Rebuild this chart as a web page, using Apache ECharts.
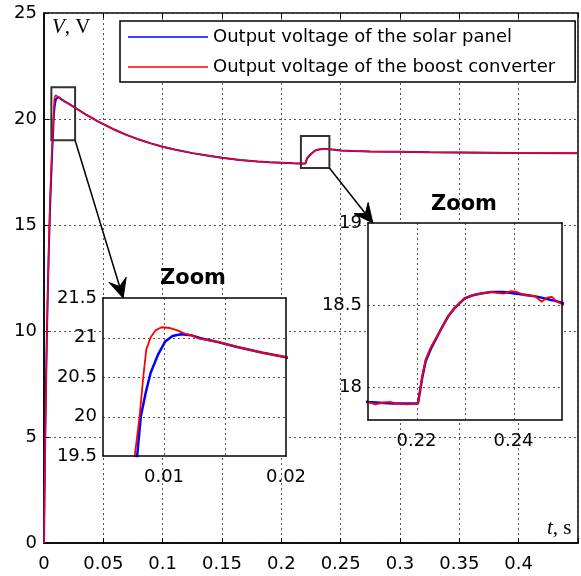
<!DOCTYPE html>
<html><head><meta charset="utf-8">
<script src="https://cdn.jsdelivr.net/npm/echarts@6/dist/echarts.min.js"></script>
<style>html,body{margin:0;padding:0;background:#fff}#c{width:581px;height:576px}</style>
</head><body><div id="c"></div>
<script>
const seriesNames = ['Output voltage of the solar panel', 'Output voltage of the boost converter'];
const seriesColors = ['#0000ff', '#ff0000'];

// Solar panel output voltage (blue)
const panelT = [0, 0.0005, 0.001, 0.002, 0.003, 0.004, 0.005, 0.006, 0.007, 0.0078, 0.0081, 0.0085, 0.0089, 0.0095, 0.0101, 0.0107, 0.0114, 0.0122, 0.013, 0.0145, 0.016, 0.018, 0.02, 0.025, 0.03, 0.035, 0.04, 0.045, 0.05, 0.06, 0.07, 0.08, 0.09, 0.1, 0.11, 0.125, 0.14, 0.15, 0.165, 0.18, 0.19, 0.2, 0.21, 0.215, 0.2203, 0.2212, 0.2219, 0.2229, 0.225, 0.2265, 0.2278, 0.2299, 0.2316, 0.2333, 0.2354, 0.238, 0.2403, 0.243, 0.2451, 0.248, 0.2505, 0.26, 0.275, 0.3, 0.325, 0.35, 0.4, 0.45];
const panelV = [0, 2.6, 5.0, 8.6, 11.4, 13.7, 15.6, 17.2, 18.6, 19.5, 20.0, 20.3, 20.55, 20.78, 20.95, 21.02, 21.04, 21.03, 20.99, 20.94, 20.88, 20.81, 20.75, 20.57, 20.4, 20.22, 20.06, 19.9, 19.76, 19.48, 19.24, 19.03, 18.85, 18.69, 18.56, 18.39, 18.25, 18.17, 18.07, 18.0, 17.96, 17.94, 17.91, 17.9, 17.9, 18.06, 18.16, 18.23, 18.35, 18.43, 18.48, 18.54, 18.56, 18.57, 18.58, 18.58, 18.57, 18.56, 18.55, 18.53, 18.51, 18.49, 18.47, 18.45, 18.43, 18.42, 18.4, 18.39];

// Boost converter output voltage (red)
const boostT = [0, 0.0005, 0.001, 0.002, 0.003, 0.004, 0.005, 0.006, 0.007, 0.0076, 0.008, 0.0083, 0.00855, 0.0089, 0.0093, 0.0098, 0.0105, 0.0111, 0.0117, 0.0122, 0.0128, 0.0145, 0.016, 0.018, 0.02, 0.025, 0.03, 0.035, 0.04, 0.045, 0.05, 0.06, 0.07, 0.08, 0.09, 0.1, 0.11, 0.125, 0.14, 0.15, 0.165, 0.18, 0.19, 0.2, 0.21, 0.2115, 0.213, 0.2145, 0.216, 0.218, 0.2203, 0.2212, 0.2219, 0.2229, 0.225, 0.2265, 0.2278, 0.2299, 0.2316, 0.2333, 0.2354, 0.2365, 0.238, 0.2395, 0.2406, 0.2424, 0.2444, 0.2458, 0.2469, 0.2479, 0.249, 0.2505, 0.26, 0.275, 0.29, 0.3, 0.325, 0.35, 0.38, 0.4, 0.43, 0.45];
const boostV = [0, 2.5, 4.7, 8.3, 11.2, 13.8, 16.0, 17.7, 18.9, 19.5, 20.0, 20.5, 20.85, 21.0, 21.09, 21.13, 21.12, 21.09, 21.05, 21.03, 20.99, 20.94, 20.88, 20.81, 20.75, 20.57, 20.4, 20.22, 20.06, 19.9, 19.76, 19.48, 19.24, 19.03, 18.85, 18.69, 18.56, 18.39, 18.25, 18.17, 18.07, 18.0, 17.96, 17.94, 17.91, 17.895, 17.905, 17.91, 17.9, 17.895, 17.9, 18.07, 18.17, 18.24, 18.35, 18.43, 18.48, 18.54, 18.56, 18.57, 18.58, 18.575, 18.57, 18.585, 18.58, 18.56, 18.555, 18.52, 18.545, 18.55, 18.52, 18.5, 18.49, 18.47, 18.455, 18.45, 18.43, 18.42, 18.41, 18.4, 18.395, 18.39];

// Axis ranges / tick labels
const mainX = {min: 0, max: 0.45, step: 0.05, labels: [0, 0.05, 0.1, 0.15, 0.2, 0.25, 0.3, 0.35, 0.4]};
const mainY = {min: 0, max: 25, step: 5};
const zoom1X = {min: 0.005, max: 0.02, step: 0.005, labels: [0.01, 0.02], grid: [0.01, 0.015]};
const zoom1Y = {min: 19.5, max: 21.5, step: 0.5, labels: [19.5, 20, 20.5, 21, 21.5], grid: [20, 20.5, 21]};
const zoom2X = {min: 0.21, max: 0.25, step: 0.01, labels: [0.22, 0.24], grid: [0.22, 0.23, 0.24]};
const zoom2Y = {min: 17.8, max: 19, step: 0.1, labels: [18, 18.5, 19], grid: [18, 18.5]};

// Zoom boxes on the main plot [t1, v1, t2, v2]; arrows go from a box corner (main axes) to an inset point (inset axes)
const zoomBox1 = [0.0062, 19.0, 0.0262, 21.5];
const zoomBox2 = [0.2165, 17.69, 0.2405, 19.2];
const arrow1 = {from: [0.0262, 19.0], to: [0.00665, 21.5]};
const arrow2 = {from: [0.2405, 17.69], to: [0.211, 19.0]};

const FONT = 'DejaVu Sans';
const pairs = (t, v) => t.map((x, i) => [x, v[i]]);
const panelData = pairs(panelT, panelV);
const boostData = pairs(boostT, boostV);
const inList = (list) => (val) => list.some(l => Math.abs(l - val) < 1e-9) ? String(+val.toFixed(4)) : '';

const dash = () => ({color: '#555', type: [2, 3], width: 1});
const lbl = {color: '#000', fontFamily: FONT, fontSize: 18};

const chart = echarts.init(document.getElementById('c'), null, {renderer: 'canvas'});

function lineSeries(idx, grid, data, color, width, z, extra) {
  return Object.assign({
    name: seriesNames[idx], type: 'line', xAxisIndex: grid.x, yAxisIndex: grid.y,
    data: data, showSymbol: false, symbol: 'none', animation: false, clip: true, z: z,
    lineStyle: {color: color, width: width}, itemStyle: {color: color}
  }, extra || {});
}

// Inset panel: white background + dashed grid lines, drawn through the inset axes (api.coord)
function insetPanelSeries(xi, yi, ax, ay) {
  return {
    type: 'custom', xAxisIndex: xi, yAxisIndex: yi, z: 6, silent: true, animation: false, clip: false,
    data: [[ax.min, ay.min]], encode: {x: 0, y: 1},
    renderItem: function (params, api) {
      const tl = api.coord([ax.min, ay.max]), br = api.coord([ax.max, ay.min]);
      const children = [{type: 'rect', shape: {x: tl[0], y: tl[1], width: br[0] - tl[0], height: br[1] - tl[1]}, style: {fill: '#fff', stroke: null}}];
      ax.grid.forEach(x => {
        const a = api.coord([x, ay.min]), b = api.coord([x, ay.max]); const xx = Math.round(a[0]) + 0.5;
        children.push({type: 'line', shape: {x1: xx, y1: b[1], x2: xx, y2: a[1]}, style: {stroke: '#555', lineWidth: 1, lineDash: [2, 3], fill: null}});
      });
      ay.grid.forEach(y => {
        const a = api.coord([ax.min, y]), b = api.coord([ax.max, y]); const yy = Math.round(a[1]) + 0.5;
        children.push({type: 'line', shape: {x1: a[0], y1: yy, x2: b[0], y2: yy}, style: {stroke: '#555', lineWidth: 1, lineDash: [2, 3], fill: null}});
      });
      return {type: 'group', children: children};
    }
  };
}

const insetAxis = (gi, ax, pos, withLabels, margin) => ({
  type: 'value', gridIndex: gi, min: ax.min, max: ax.max, interval: ax.step, z: 11, position: pos,
  axisLine: {show: true, onZero: false, lineStyle: {color: '#000', width: 1.5}}, axisTick: {show: false},
  axisLabel: withLabels ? Object.assign({margin: margin, formatter: inList(ax.labels)}, lbl) : {show: false},
  splitLine: {show: false}
});

const option = {
  animation: false,
  backgroundColor: '#fff',
  grid: [
    {left: 44, top: 13, width: 541, height: 530, show: true, borderColor: '#000', borderWidth: 1.5, backgroundColor: 'transparent'},
    {left: 103, top: 298, width: 183, height: 158, show: false},
    {left: 368, top: 223, width: 194, height: 197, show: false}
  ],
  xAxis: [
    {type: 'value', gridIndex: 0, min: mainX.min, max: mainX.max, interval: mainX.step, position: 'bottom',
     axisLine: {show: true, lineStyle: {color: '#000', width: 1.5}}, axisTick: {show: true, inside: true, length: 5, lineStyle: {color: '#000'}},
     axisLabel: Object.assign({margin: 12, formatter: inList(mainX.labels)}, lbl), splitLine: {show: true, lineStyle: dash()}},
    {type: 'value', gridIndex: 0, min: mainX.min, max: mainX.max, interval: mainX.step, position: 'top',
     axisLine: {show: false}, axisTick: {show: true, inside: true, length: 5, lineStyle: {color: '#000'}},
     axisLabel: {show: false}, splitLine: {show: false}},
    insetAxis(1, zoom1X, 'bottom', true, 12),
    insetAxis(1, zoom1X, 'top', false),
    insetAxis(2, zoom2X, 'bottom', true, 12),
    insetAxis(2, zoom2X, 'top', false)
  ],
  yAxis: [
    {type: 'value', gridIndex: 0, min: mainY.min, max: mainY.max, interval: mainY.step,
     axisLine: {show: true, lineStyle: {color: '#000', width: 1.5}}, axisTick: {show: true, inside: true, length: 5, lineStyle: {color: '#000'}},
     axisLabel: Object.assign({margin: 7}, lbl), splitLine: {show: true, lineStyle: dash()}},
    insetAxis(1, zoom1Y, 'left', true, 6),
    insetAxis(1, zoom1Y, 'right', false),
    insetAxis(2, zoom2Y, 'left', true, 6),
    insetAxis(2, zoom2Y, 'right', false)
  ],
  legend: {
    data: seriesNames, orient: 'vertical', left: 120, top: 21,
    padding: [7, 20, 6, 8], itemGap: 12, itemWidth: 80, itemHeight: 1.6, icon: 'rect',
    backgroundColor: '#fff', borderColor: '#000', borderWidth: 1.5, borderRadius: 0,
    textStyle: {color: '#000', fontFamily: FONT, fontSize: 18}, selectedMode: false, z: 20
  },
  series: [
    lineSeries(0, {x: 0, y: 0}, panelData, seriesColors[0], 2, 2, {
      markArea: {silent: true, itemStyle: {color: 'rgba(0,0,0,0)', borderColor: '#333', borderWidth: 2},
        data: [[{coord: [zoomBox1[0], zoomBox1[1]]}, {coord: [zoomBox1[2], zoomBox1[3]]}],
               [{coord: [zoomBox2[0], zoomBox2[1]]}, {coord: [zoomBox2[2], zoomBox2[3]]}]]}
    }),
    lineSeries(1, {x: 0, y: 0}, boostData, seriesColors[1], 1.5, 2),
    insetPanelSeries(2, 1, zoom1X, zoom1Y),
    lineSeries(0, {x: 2, y: 1}, panelData, seriesColors[0], 2.5, 7),
    lineSeries(1, {x: 2, y: 1}, boostData, seriesColors[1], 1.8, 8),
    insetPanelSeries(4, 3, zoom2X, zoom2Y),
    lineSeries(0, {x: 4, y: 3}, panelData, seriesColors[0], 2.5, 7),
    lineSeries(1, {x: 4, y: 3}, boostData, seriesColors[1], 1.8, 8)
  ],
  graphic: [
    {type: 'text', left: 52, top: 17, z: 20, style: {text: '{i|V}, V', font: '21px "Liberation Serif"', fill: '#000',
      rich: {i: {fontStyle: 'italic', fontFamily: 'Liberation Serif', fontSize: 21}}}},
    {type: 'text', left: 547, top: 518, z: 20, style: {text: '{i|t}, s', font: '21px "Liberation Serif"', fill: '#000',
      rich: {i: {fontStyle: 'italic', fontFamily: 'Liberation Serif', fontSize: 21}}}},
    {type: 'text', x: 193, y: 279, z: 20, style: {text: 'Zoom', font: 'bold 21px "DejaVu Sans"', fill: '#000', align: 'center', verticalAlign: 'middle'}},
    {type: 'text', x: 464, y: 205, z: 20, style: {text: 'Zoom', font: 'bold 21px "DejaVu Sans"', fill: '#000', align: 'center', verticalAlign: 'middle'}}
  ]
};
chart.setOption(option);

// Arrows: from zoom-box corner (main grid) to inset top (inset grid), via the library's coordinate conversion
function arrowGraphics(a, insetGrid) {
  const p0 = chart.convertToPixel({gridIndex: 0}, a.from);
  const p1 = chart.convertToPixel({gridIndex: insetGrid}, a.to);
  const dx = p1[0] - p0[0], dy = p1[1] - p0[1], L = Math.hypot(dx, dy);
  const ux = dx / L, uy = dy / L, px = -uy, py = ux;
  const head = 19, half = 9, notch = 12;
  const bx = p1[0] - ux * head, by = p1[1] - uy * head;
  const nx = p1[0] - ux * notch, ny = p1[1] - uy * notch;
  return [
    {type: 'line', z: 15, shape: {x1: p0[0], y1: p0[1], x2: nx, y2: ny}, style: {stroke: '#000', lineWidth: 1.5}},
    {type: 'polygon', z: 15, shape: {points: [[p1[0], p1[1]], [bx + px * half, by + py * half], [nx, ny], [bx - px * half, by - py * half]]},
     style: {fill: '#000', stroke: '#000', lineWidth: 1}}
  ];
}
chart.setOption({graphic: option.graphic.concat(arrowGraphics(arrow1, 1), arrowGraphics(arrow2, 2))});
</script></body></html>
